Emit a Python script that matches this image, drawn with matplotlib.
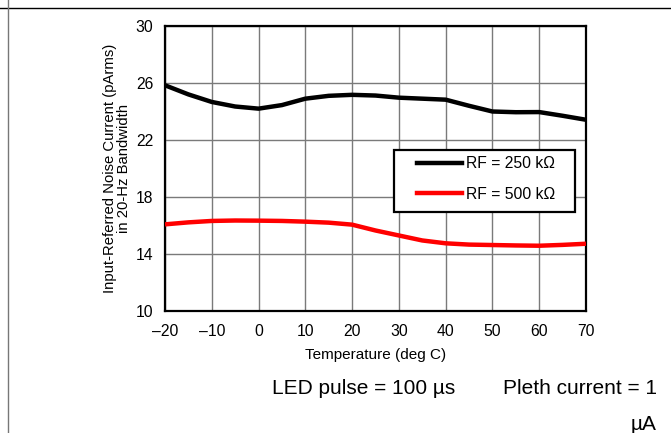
import matplotlib
matplotlib.use("Agg")
import matplotlib.pyplot as plt
from matplotlib.lines import Line2D
from matplotlib.patches import Rectangle

plt.rcParams['font.family'] = ['Liberation Sans', 'DejaVu Sans']

# ---- data --------------------------------------------------------------
temp = [-20, -15, -10, -5, 0, 5, 10, 15, 20, 25, 30, 35, 40, 45, 50, 55, 60, 65, 70]
rf250 = [25.84, 25.2, 24.67, 24.35, 24.2, 24.45, 24.9, 25.1, 25.17, 25.12, 24.97,
         24.9, 24.83, 24.4, 24.0, 23.95, 23.96, 23.7, 23.42]
rf500 = [16.08, 16.22, 16.32, 16.35, 16.34, 16.32, 16.27, 16.2, 16.06, 15.65, 15.3,
         14.95, 14.75, 14.66, 14.63, 14.6, 14.58, 14.64, 14.72]
x_ticks = list(range(-20, 71, 10))
y_ticks = [10, 14, 18, 22, 26, 30]

W, H = 671, 433
AX_L, AX_R, AX_T, AX_B = 165, 586, 26, 311
aw, ah = AX_R - AX_L, AX_B - AX_T

fig = plt.figure(figsize=(W / 100, H / 100), dpi=100)
ax = fig.add_axes([AX_L / W, 1 - AX_B / H, aw / W, ah / H])

ax.plot(temp, rf250, color="black", lw=3.2, solid_capstyle="butt", zorder=3)
ax.plot(temp, rf500, color="#ff0000", lw=3.2, solid_capstyle="butt", zorder=3)

ax.set_xlim(-20, 70)
ax.set_ylim(10, 30)
ax.set_xticks(x_ticks)
ax.set_xticklabels([str(t).replace("-", "\u2013") for t in x_ticks])
ax.set_yticks(y_ticks)
ax.tick_params(length=0, labelsize=11.3)
ax.tick_params(axis="x", pad=9)
ax.tick_params(axis="y", pad=8.5)
ax.grid(True, color="#7a7a7a", lw=1.0)
ax.set_axisbelow(True)
for s in ax.spines.values():
    s.set_linewidth(1.6)
    s.set_color("black")

ax.set_xlabel("Temperature (deg C)", fontsize=11, labelpad=7)
ax.set_ylabel("Input-Referred Noise Current (pArms)\nin 20-Hz Bandwidth",
              fontsize=10.7, labelpad=3, linespacing=1.05)

# legend: white box with frame, entries placed inside it
ax.add_patch(Rectangle(((394 - AX_L) / aw, (AX_B - 212) / ah), 181 / aw, 62 / ah,
                       transform=ax.transAxes, facecolor="white", edgecolor="black",
                       lw=1.6, zorder=4))
handles = [Line2D([], [], color="black", lw=3.2),
           Line2D([], [], color="#ff0000", lw=3.2)]
leg = ax.legend(handles, ["RF = 250 k\u03a9", "RF = 500 k\u03a9"],
                loc="upper left", bbox_to_anchor=((417 - AX_L) / aw, (AX_B - 156) / ah),
                fontsize=11.3, frameon=False, handlelength=2.85, handletextpad=0.3,
                labelspacing=1.0, borderpad=0, borderaxespad=0)
leg.set_zorder(5)

# page frame lines
fig.add_artist(Line2D([0, 1], [1 - 7.5 / H, 1 - 7.5 / H], color="black", lw=1.0,
                      transform=fig.transFigure))
fig.add_artist(Line2D([7.5 / W, 7.5 / W], [0, 1], color="#777777", lw=1.0,
                      transform=fig.transFigure))

fig.text(272 / W, 1 - 389 / H, "LED pulse = 100 \u00b5s", fontsize=15,
         ha="left", va="center")
fig.text(657 / W, 1 - 389 / H, "Pleth current = 1", fontsize=15,
         ha="right", va="center")
fig.text(657 / W, 1 - 424 / H, "\u00b5A", fontsize=15, ha="right", va="center")

fig.savefig("out.png", dpi=100)
